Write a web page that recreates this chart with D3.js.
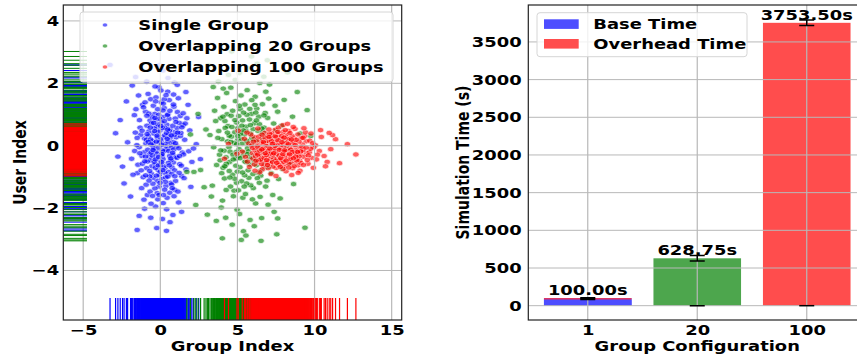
<!DOCTYPE html>
<html>
<head>
<meta charset="utf-8">
<script src="https://cdn.jsdelivr.net/npm/d3@7"></script>
<style>
  body { margin: 0; background: #fff; }
  svg { display: block; font-family: "DejaVu Sans", sans-serif; font-weight: bold; }
</style>
</head>
<body>
<svg id="chart" width="857" height="358"></svg>
<script>
// ---------------- scatter data: [group index, user index] ----------------
const singleGroup = [
[0.12,-0.34],[-0.66,0.81],[1.03,0.27],[-0.21,-1.12],[0.58,1.46],[-1.37,-0.05],[0.29,-0.73],[-0.84,-1.58],[1.47,0.66],[0.05,0.14],
[-0.43,0.39],[0.91,-1.41],[-1.68,0.98],[0.37,-0.02],[-0.09,1.87],[1.26,-0.59],[-0.71,-0.36],[0.63,0.53],[-1.15,1.31],[1.84,-0.18],
[-0.31,-1.95],[0.17,0.92],[-0.55,-0.66],[0.79,-0.29],[-1.02,0.23],[0.44,-1.67],[-0.18,0.61],[1.11,1.08],[-1.49,-0.88],[0.02,-0.51],
[0.71,0.03],[-0.62,1.49],[1.38,-0.97],[-0.27,-0.17],[0.25,1.21],[-1.86,-0.42],[0.96,0.44],[-0.08,-1.31],[0.53,-0.84],[-0.93,0.07],
[0.33,0.28],[-0.47,-1.03],[1.58,0.19],[-1.21,-1.36],[0.09,0.74],[-0.36,1.02],[0.84,-0.54],[-0.74,0.46],[1.19,-1.82],[-0.14,-0.78],
[0.48,1.73],[-1.04,-0.21],[0.67,-1.19],[-0.52,0.15],[1.72,0.88],[-0.23,-0.39],[0.14,-2.35],[-1.31,0.58],[0.88,1.25],[-0.66,-1.47],
[0.39,-0.11],[-0.02,0.49],[1.31,0.31],[-0.89,-0.72],[0.57,0.86],[-1.58,1.17],[0.21,-1.58],[-0.41,-0.02],[1.02,-0.36],[-0.79,1.66],
[0.76,-0.7],[-0.19,0.27],[2.05,-0.52],[-1.11,-1.01],[0.31,0.05],[-0.57,0.72],[0.99,-1.13],[-0.33,-0.59],[0.06,1.39],[-2.12,0.11],
[1.43,-0.22],[-0.68,-0.27],[0.42,0.67],[-0.06,-0.94],[0.83,0.12],[-0.96,1.09],[0.18,-0.43],[-1.45,-0.61],[1.17,1.52],[-0.29,0.83],
[0.61,-1.51],[-0.81,-0.13],[1.54,-1.04],[-0.16,-1.72],[0.27,0.33],[-1.27,0.35],[0.72,-0.06],[-0.45,1.28],[1.09,0.57],[-0.58,-0.9],
[0.02,0.21],[0.93,-0.79],[-1.77,-0.93],[0.49,1.01],[-0.24,-0.25],[1.29,0.95],[-0.87,0.64],[0.36,-1.29],[-0.11,0.99],[0.69,-0.47],
[-1.06,-1.73],[1.91,0.49],[-0.38,0.56],[0.23,-0.66],[-0.64,-0.47],[0.86,1.64],[-1.35,0.82],[0.11,-1.07],[1.36,-0.64],[-0.5,0.09],
[0.55,0.38],[-0.92,-1.25],[0.07,-0.31],[1.06,-0.02],[-0.28,1.55],[-1.62,0.42],[0.74,-0.91],[-0.05,0.11],[0.41,-2.04],[-0.77,0.31],
[1.23,0.73],[-0.35,-1.37],[0.17,1.13],[-1.19,-0.33],[0.64,0.26],[-0.6,-1.86],[1.67,-0.76],[-0.13,0.44],[0.3,-0.87],[-0.99,1.39],
[0.81,0.64],[-0.44,-0.08],[1.14,-1.47],[-1.41,1.61],[0.01,-0.63],[0.5,0.13],[-0.7,-0.99],[0.97,0.87],[-0.2,-1.52],[2.33,0.05],
[-0.9,0.19],[0.26,1.49],[-0.39,-0.52],[1.48,1.04],[-1.24,-0.79],[0.6,-0.33],[-0.15,0.68],[0.89,-1.62],[-0.54,0.93],[0.13,-0.15],
[-2.45,-0.67],[1.33,0.41],[-0.32,-0.71],[0.46,0.98],[-0.85,-0.51],[0.73,-1.24],[-1.5,0.25],[0.04,1.77],[1.08,-0.39],[-0.63,0.2],
[0.35,-1.02],[-0.1,-0.06],[1.61,0.71],[-1.09,1.23],[0.52,-0.55],[-0.48,-1.22],[0.92,0.35],[-0.26,0.13],[0.19,-1.84],[-1.66,-0.17],
[1.22,-0.87],[-0.75,1.03],[0.59,0.47],[-0.01,-0.84],[0.85,1.32],[-1.16,-0.58],[0.28,0.58],[-0.51,-0.32],[1.5,-0.28],[-0.34,1.9],
[-3.26,2.59],[0.5,2.17],[-2.6,0.82],[-1.5,-2.7],[-0.23,-2.64],[0.63,-2.45],[-1.93,-1.63],[1.98,-1.32],[2.48,0.92],[-2.2,1.42],
[0.92,2.03],[-0.88,2.06],[1.66,1.72],[-1.37,-2.25],[0.18,2.41],[-2.75,-0.35],[2.15,-0.09],[1.38,-2.12],[-0.62,-2.31],[-1.82,1.93],
[0.4,-2.73],[1.8,1.31],[-2.35,-1.21],[2.6,-0.43],[-0.05,2.58],[-1.02,-2.02],[1.1,1.95],[-1.6,2.2],[0.82,-2.22],[-2.9,0.4],
[0.22,-0.18],[-0.37,0.47],[0.68,-0.41],[-0.12,-0.63],[0.45,0.22],[-0.78,0.12],[0.15,0.57],[-0.25,-0.96],[0.98,0.08],[-0.59,-0.22],
[0.33,-1.16],[-0.04,0.86],[0.62,1.12],[-0.96,-0.35],[0.11,-0.27],[-0.43,0.73],[1.25,-0.33],[-0.69,-0.81],[0.4,0.41],[-0.17,1.17],
[0.77,-1.36],[-1.18,0.48],[0.08,0.03],[-0.32,-0.44],[0.54,-0.17],[-0.87,0.96],[1.13,0.42],[-0.5,-1.61],[0.26,0.79],[-0.02,-1.19],
[0.87,-0.12],[-1.33,-0.24],[0.19,1.35],[-0.61,0.04],[0.49,-0.99],[-0.21,0.32],[1.4,0.59],[-0.73,-1.12],[0.03,0.63],[0.58,-0.63],
[-1.0,-0.5],[0.71,0.33],[-0.3,1.42],[0.94,-0.98],[-0.47,-0.14],[0.16,-0.78],[-0.86,0.37],[0.37,1.62],[-0.11,-0.36],[1.01,0.76],
[-1.52,0.02],[0.28,-1.41],[-0.65,0.58],[0.8,-0.23],[-0.08,-1.58],[0.47,0.52],[-0.95,-0.95],[1.2,-0.08],[-0.35,0.89],[0.09,-0.53]
];

const overlapping20 = [
[5.21,0.43],[6.34,-0.87],[4.12,1.25],[5.87,0.18],[3.65,-0.62],[7.03,1.51],[4.78,-1.44],[6.56,0.37],[5.42,-0.21],[3.91,0.88],
[6.92,-1.12],[4.45,-0.05],[5.63,1.78],[7.48,-0.34],[4.98,-2.05],[6.11,0.72],[3.37,-1.28],[5.09,0.95],[6.77,-0.58],[4.3,1.69],
[5.74,-1.03],[7.85,0.64],[4.61,0.29],[6.25,1.19],[3.84,-0.29],[5.35,-1.67],[6.88,0.08],[4.87,1.43],[5.98,-0.44],[2.96,0.52],
[7.29,-1.58],[5.16,-0.69],[6.45,2.01],[4.03,-1.76],[5.55,0.61],[8.21,-0.11],[4.69,-0.93],[6.03,-1.36],[3.52,1.12],[5.91,1.02],
[7.14,0.27],[4.24,-2.31],[6.67,-0.22],[5.03,0.19],[3.76,2.06],[6.18,-1.85],[4.91,-0.41],[7.61,1.09],[5.48,1.32],[4.38,0.63],
[6.51,-0.96],[2.61,-0.78],[5.82,-2.38],[6.96,0.89],[4.57,1.86],[5.27,-1.14],[7.92,-0.75],[3.99,0.21],[6.31,0.48],[5.66,-0.08],
[4.16,-1.05],[7.38,-2.12],[5.12,2.33],[6.84,1.73],[3.46,-0.05],[5.95,0.26],[4.74,-1.62],[8.57,0.93],[6.22,-0.63],[4.95,0.74],
[5.39,-2.74],[7.21,-0.47],[3.71,1.53],[6.62,1.33],[4.49,-0.52],[5.78,0.84],[8.03,1.47],[4.07,-0.71],[6.09,-2.58],[5.23,1.61],
[3.22,0.34],[6.99,-1.89],[4.83,0.43],[5.59,-0.53],[7.52,0.49],[4.33,1.01],[6.41,-0.07],[5.06,-1.43],[3.95,-1.98],[6.73,0.58],
[5.71,2.48],[4.52,-0.19],[7.67,-1.07],[5.31,0.07],[3.59,0.79],[6.15,1.57],[4.99,-0.83],[8.39,-0.58],[5.86,-1.27],[4.21,0.57],
[6.38,0.93],[2.18,-0.84],[5.45,0.35],[7.08,1.96],[4.66,-2.53],[6.06,-0.31],[3.88,-0.47],[5.18,1.17],[6.83,-1.31],[4.42,2.27],
[5.69,-0.79],[7.35,0.71],[4.08,1.83],[6.57,-2.32],[5.01,0.56],[3.31,-1.63],[6.26,0.15],[5.52,-1.55],[9.07,0.39],[4.79,0.09],
[6.93,-0.13],[4.26,-0.37],[5.93,1.46],[7.77,-1.69],[3.63,-2.41],[5.36,-0.32],[6.47,-1.64],[4.59,0.96],[8.64,-1.23],[5.11,-0.11],
[6.71,2.21],[3.98,-0.88],[5.61,0.99],[7.19,-0.88],[4.71,-0.29],[6.29,-1.04],[5.26,0.22],[3.43,1.88],[6.02,0.53],[4.94,-1.19],
[7.44,1.28],[5.81,-0.6],[4.13,-0.16],[6.61,0.22],[5.47,-0.95],[2.84,-1.33],[6.19,1.06],[4.55,-1.31],[7.98,0.17],[5.97,-1.72],
[4.36,0.14],[6.86,-0.69],[5.14,-2.19],[3.79,0.47],[6.43,0.69],[5.68,0.09],[8.88,1.72],[4.86,2.11],[6.12,-0.51],[5.33,0.81],
[9.38,-2.63],[4.02,-2.97],[6.53,-3.05],[5.55,-2.88],[7.61,-2.33],[3.12,2.58],[6.94,2.74],[4.63,3.02],[5.91,2.86],[1.72,-0.84],
[2.45,1.02],[9.75,0.31],[2.3,-1.9],[8.25,2.35],[7.55,-2.84],[5.25,-3.02],[3.05,-2.21],[9.52,1.14],[1.95,0.36],[6.28,2.63],
[4.9,-0.64],[5.57,0.47],[6.36,-0.28],[4.47,0.32],[5.04,-0.34],[6.65,0.44],[5.77,-0.37],[4.19,0.79],[6.01,0.04],[5.4,1.06],
[7.11,-0.24],[4.82,-1.06],[5.84,0.66],[6.49,-0.8],[4.28,-0.58],[5.19,0.38],[6.8,1.05],[5.6,-1.21],[4.64,0.6],[7.27,0.12],
[5.02,0.31],[6.21,-0.45],[4.58,0.12],[5.72,-0.18],[4.18,-0.66],[6.58,0.55],[5.33,-0.86],[4.84,0.82],[6.04,0.21],[5.49,-0.51],
[4.35,0.42],[6.42,-1.19],[5.13,1.28],[3.92,-0.15],[6.89,0.32],[5.64,-0.27],[4.73,-0.44],[6.14,1.31],[5.29,0.64],[4.51,-1.02],
[7.05,-0.66],[5.85,0.39],[4.06,0.93],[6.33,-0.15],[5.44,-1.31],[4.95,0.05],[6.72,0.97],[5.58,0.16],[4.27,-1.42],[6.0,-0.91],
[5.17,-0.4],[4.69,1.12],[6.54,-0.42],[5.8,1.18],[3.73,0.25],[6.23,0.81],[4.93,-0.2],[5.38,0.49],[7.32,-0.1],[4.47,-0.81]
];

const overlapping100 = [
[7.62,-0.12],[8.41,0.18],[6.93,-0.41],[7.98,0.05],[9.12,-0.27],[6.54,0.11],[8.77,-0.53],[7.25,0.32],[8.05,-0.64],[6.21,-0.08],
[9.46,0.14],[7.41,-0.33],[8.63,-0.02],[6.78,0.41],[7.86,-0.21],[9.81,-0.39],[5.97,-0.24],[8.24,0.27],[7.13,-0.58],[8.92,0.36],
[6.35,-0.52],[7.71,0.09],[9.28,-0.11],[7.02,-0.03],[8.53,-0.34],[5.74,0.07],[7.51,-0.71],[8.17,-0.16],[6.66,-0.21],[10.05,0.02],
[7.33,0.19],[8.86,-0.22],[6.08,0.28],[7.93,-0.45],[9.57,-0.58],[6.87,0.02],[8.32,0.47],[7.19,-0.19],[8.71,0.1],[5.52,-0.36],
[7.78,0.24],[9.03,-0.47],[6.47,-0.31],[8.11,-0.29],[7.45,0.51],[10.31,-0.17],[6.71,-0.66],[8.48,0.03],[7.07,0.14],[9.36,0.31],
[6.14,-0.14],[7.84,-0.56],[8.97,-0.07],[6.59,0.22],[7.57,-0.27],[9.69,0.16],[5.86,0.36],[8.29,-0.44],[7.28,-0.05],[8.58,-0.72],
[6.99,-0.26],[9.21,0.04],[7.66,0.38],[6.29,0.02],[8.04,0.14],[10.62,-0.33],[7.16,-0.38],[8.82,-0.31],[6.82,-0.12],[7.91,0.22],
[5.31,-0.19],[9.49,-0.24],[7.37,-0.14],[8.39,-0.09],[6.42,-0.37],[8.67,0.23],[7.59,-0.42],[9.95,-0.05],[6.96,0.31],[8.13,0.35],
[7.22,0.06],[5.65,-0.51],[8.94,-0.63],[7.8,-0.08],[6.62,-0.47],[9.14,0.24],[7.48,-0.2],[8.45,-0.54],[6.24,0.17],[7.04,-0.5],
[10.44,0.28],[7.69,-0.31],[8.21,-0.01],[6.75,-0.09],[9.33,-0.36],[7.95,0.44],[6.01,-0.41],[8.6,0.11],[7.31,-0.67],[8.99,0.13],
[6.51,-0.02],[7.53,0.16],[9.66,-0.21],[8.07,-0.37],[6.86,-0.54],[7.12,0.23],[8.75,-0.15],[5.92,0.01],[7.89,-0.34],[9.05,-0.8],
[6.38,0.29],[8.36,-0.24],[7.42,-0.09],[10.82,-0.52],[6.69,0.08],[8.54,0.31],[7.74,-0.46],[9.24,-0.15],[6.17,-0.33],[7.99,-0.19],
[4.97,-0.26],[8.89,-0.42],[7.23,0.4],[8.28,0.21],[6.92,0.15],[9.88,0.08],[7.61,-0.59],[6.57,-0.59],[8.15,-0.82],[7.05,-0.15],
[9.41,0.43],[6.04,0.13],[8.69,-0.25],[7.36,-0.42],[5.45,0.22],[8.01,-0.03],[6.79,-0.33],[9.11,-0.55],[7.55,0.28],[8.46,-0.13],
[6.26,-0.23],[7.83,0.02],[10.18,-0.29],[7.09,0.38],[8.81,0.19],[6.61,-0.76],[7.47,-0.48],[9.6,-0.31],[6.97,-0.17],[8.34,-0.58],
[4.42,0.06],[11.05,-0.11],[7.67,0.58],[5.78,-0.68],[9.77,0.39],[6.44,-0.85],[8.73,0.54],[11.36,0.21],[4.16,-0.42],[10.71,-0.66],
[12.68,-0.28],[12.13,0.05],[11.62,-0.56],[11.17,0.34],[5.05,0.48],[9.92,-0.71],[7.18,-0.91],[8.52,-0.94],[6.33,0.55],[10.95,0.41],
[7.95,0.66],[8.62,0.6],[7.04,0.52],[9.31,0.56],[6.14,-0.8],[8.94,-0.87],[7.5,-0.97],[10.39,0.5],[5.62,0.42],[8.25,0.7],
[6.1,-0.6],[7.4,0.1],[8.0,-0.52],[6.8,0.26],[7.7,-0.62],[9.0,-0.34],[6.5,-0.45],[8.4,0.41],[7.3,-0.29],[8.85,-0.47],
[7.58,0.03],[6.73,-0.39],[8.19,0.09],[7.0,-0.72],[9.18,-0.04],[6.31,-0.28],[7.86,0.31],[8.67,-0.66],[7.14,-0.25],[9.53,-0.46],
[6.6,0.35],[7.96,-0.74],[8.56,-0.2],[7.27,-0.53],[6.85,-0.01],[10.12,-0.44],[7.63,0.18],[8.33,-0.7],[6.2,-0.48],[7.44,-0.01],
[8.1,0.5],[9.25,0.25],[5.98,-0.07],[7.81,-0.4],[6.64,-0.1],[8.78,-0.35],[7.2,0.15],[9.74,-0.1],[6.9,-0.46],[8.43,-0.43],
[7.35,-0.24],[8.02,0.26],[6.88,-0.3],[7.72,-0.13],[8.62,-0.4],[6.68,0.12],[7.94,-0.27],[8.3,0.05],[7.1,-0.09],[9.1,-0.18],
[6.45,-0.16],[7.55,-0.55],[8.5,0.2],[7.05,0.28],[7.88,0.11],[6.95,-0.62],[8.75,0.02],[7.45,0.3],[8.15,-0.48],[6.3,-0.03],
[9.45,-0.06],[7.62,0.44],[8.38,-0.28],[6.8,-0.24],[7.28,0.06],[8.9,-0.2],[7.78,-0.68],[6.58,-0.12],[8.06,-0.15],[9.28,-0.62]
];

const scatterNames = ["Single Group", "Overlapping 20 Groups", "Overlapping 100 Groups"];
const scatterColors = ["#0000ff", "#008000", "#ff0000"];
const scatterTicksX = [-5, 0, 5, 10, 15];
const scatterTicksY = [-4, -2, 0, 2, 4];

// ---------------- bar data: simulation time per group configuration ----------------
const groupConfigs = ["1", "20", "100"];
const simulationTime = [100.00, 628.75, 3753.50];
const simulationStd = [5, 36, 36];
const baseTime = [82, 0, 0];
const overheadTime = [18, 0, 0];
const groupColors = ["#4d4dff", "#4da64d", "#ff4d4d"];
const legendNames = ["Base Time", "Overhead Time"];
const legendColors = ["#4d4dff", "#ff4d4d"];
const timeTicks = [0, 500, 1000, 1500, 2000, 2500, 3000, 3500];

// ---------------- drawing ----------------
const SX = 1.28;          // horizontal glyph stretch
const FS = 14;            // font size
const svg = d3.select("#chart");
svg.append("rect").attr("width", 857).attr("height", 358).attr("fill", "#fff");

function txt(g, s, x, y, anchor, rotated) {
  const t = g.append("text")
    .attr("font-size", FS)
    .attr("fill", "#000")
    .attr("text-anchor", anchor || "start")
    .text(s);
  if (rotated) t.attr("transform", `translate(${x},${y}) rotate(-90) scale(1,${SX})`);
  else t.attr("transform", `translate(${x},${y}) scale(${SX},1)`);
  return t;
}
function styleAxisText(sel, isY, pad) {
  sel.selectAll(".tick text")
    .attr("font-size", FS)
    .attr("font-family", "DejaVu Sans")
    .attr("font-weight", "bold")
    .attr("fill", "#000")
    .attr("transform", `scale(${SX},1)`);
  sel.select(".domain").remove();
  sel.selectAll(".tick line").remove();
  if (isY) sel.selectAll(".tick text").attr("x", -pad / SX);
  else sel.selectAll(".tick text").attr("y", pad).attr("dy", 0);
}

// ===== left panel: scatter + rugs =====
const L = { left: 63.3, right: 401.7, top: 5, bottom: 320 };
const xL = d3.scaleLinear().domain([-6.29, 15.65]).range([L.left, L.right]);
const yL = d3.scaleLinear().domain([-5.587, 4.51]).range([L.bottom, L.top]);
svg.append("clipPath").attr("id", "clipL").append("rect")
  .attr("x", L.left).attr("y", L.top).attr("width", L.right - L.left).attr("height", L.bottom - L.top);

const gL = svg.append("g");
const plotL = gL.append("g").attr("clip-path", "url(#clipL)");
const scatterSets = [singleGroup, overlapping20, overlapping100];

scatterSets.forEach((pts, i) => {
  plotL.append("g").selectAll("ellipse").data(pts).join("ellipse")
    .attr("cx", d => xL(d[0])).attr("cy", d => yL(d[1]))
    .attr("rx", 3.3).attr("ry", 2.7)
    .attr("fill", scatterColors[i])
    .attr("stroke", "#fff").attr("stroke-width", 0.7)
    .attr("opacity", 0.62);
});

// grid
const gridL = plotL.append("g").attr("stroke", "#b8b8b8");
gridL.selectAll(".gx").data(scatterTicksX).join("line")
  .attr("x1", d => xL(d)).attr("x2", d => xL(d)).attr("y1", L.top).attr("y2", L.bottom).attr("stroke-width", 1.2);
gridL.selectAll(".gy").data(scatterTicksY).join("line")
  .attr("x1", L.left).attr("x2", L.right).attr("y1", d => yL(d)).attr("y2", d => yL(d)).attr("stroke-width", 1);

// rugs (7% of the axes)
const rugW = 0.07 * (L.right - L.left), rugH = 0.07 * (L.bottom - L.top);
scatterSets.forEach((pts, i) => {
  const r = plotL.append("g").attr("stroke", scatterColors[i]);
  r.selectAll(".rx").data(pts).join("line")
    .attr("x1", d => xL(d[0])).attr("x2", d => xL(d[0]))
    .attr("y1", L.bottom).attr("y2", L.bottom - rugH).attr("stroke-width", 1.2);
  r.selectAll(".ry").data(pts).join("line")
    .attr("y1", d => yL(d[1])).attr("y2", d => yL(d[1]))
    .attr("x1", L.left).attr("x2", L.left + rugW).attr("stroke-width", 1);
});

// axes
const axXL = gL.append("g").attr("transform", `translate(0,${L.bottom})`)
  .call(d3.axisBottom(xL).tickValues(scatterTicksX).tickSize(0).tickFormat(d3.format("d")));
styleAxisText(axXL, false, 15);
const axYL = gL.append("g").attr("transform", `translate(${L.left},0)`)
  .call(d3.axisLeft(yL).tickValues(scatterTicksY).tickSize(0).tickFormat(d3.format("d")));
styleAxisText(axYL, true, 4);

gL.append("rect").attr("x", L.left).attr("y", L.top)
  .attr("width", L.right - L.left).attr("height", L.bottom - L.top)
  .attr("fill", "none").attr("stroke", "#222").attr("stroke-width", 1.2);

txt(gL, "Group Index", (L.left + L.right) / 2, 350.7, "middle");
txt(gL, "User Index", 26, (L.top + L.bottom) / 2, "middle", true);

// legend
const legL = gL.append("g");
legL.append("rect").attr("x", 80).attr("y", 12).attr("width", 313).attr("height", 70)
  .attr("rx", 3).attr("fill", "#fff").attr("fill-opacity", 0.8)
  .attr("stroke", "#d6d6d6").attr("stroke-width", 1);
scatterNames.forEach((n, i) => {
  const yy = 30 + i * 21;
  legL.append("ellipse").attr("cx", 105).attr("cy", yy - 5).attr("rx", 2.6).attr("ry", 2.1)
    .attr("fill", scatterColors[i]).attr("stroke", "#fff").attr("stroke-width", 0.6).attr("opacity", 0.6);
  txt(legL, n, 138.3, yy, "start");
});

// ===== right panel: bars =====
const R = { left: 528.3, right: 866.2, top: 5, bottom: 320 };
const xR = d3.scalePoint().domain(groupConfigs).range([R.left, R.right]).padding(0.543);
const yR = d3.scaleLinear().domain([-190, 3990]).range([R.bottom, R.top]);
const barW = 0.8 * xR.step();
svg.append("clipPath").attr("id", "clipR").append("rect")
  .attr("x", R.left).attr("y", R.top).attr("width", R.right - R.left).attr("height", R.bottom - R.top);

const gR = svg.append("g");
const plotR = gR.append("g").attr("clip-path", "url(#clipR)");

plotR.selectAll(".bar").data(groupConfigs).join("rect")
  .attr("x", d => xR(d) - barW / 2).attr("width", barW)
  .attr("y", (d, i) => yR(simulationTime[i]))
  .attr("height", (d, i) => yR(0) - yR(simulationTime[i]))
  .attr("fill", (d, i) => groupColors[i]);
// stacked base / overhead split
plotR.selectAll(".base").data(groupConfigs).join("rect")
  .attr("x", d => xR(d) - barW / 2).attr("width", barW)
  .attr("y", (d, i) => yR(baseTime[i]))
  .attr("height", (d, i) => yR(0) - yR(baseTime[i]))
  .attr("fill", legendColors[0]);
plotR.selectAll(".over").data(groupConfigs).join("rect")
  .attr("x", d => xR(d) - barW / 2).attr("width", barW)
  .attr("y", (d, i) => yR(baseTime[i] + overheadTime[i]))
  .attr("height", (d, i) => yR(baseTime[i]) - yR(baseTime[i] + overheadTime[i]))
  .attr("fill", "#f0304a");

// grid above bars
const gridR = plotR.append("g").attr("stroke", "#b8b8b8");
gridR.selectAll(".gx").data(groupConfigs).join("line")
  .attr("x1", d => xR(d)).attr("x2", d => xR(d)).attr("y1", R.top).attr("y2", R.bottom).attr("stroke-width", 1.2);
gridR.selectAll(".gy").data(timeTicks).join("line")
  .attr("x1", R.left).attr("x2", R.right).attr("y1", d => yR(d)).attr("y2", d => yR(d)).attr("stroke-width", 1);

// error bars
const cap = 7.5;
const errG = plotR.append("g").attr("stroke", "#000").attr("stroke-width", 1.5);
groupConfigs.forEach((g, i) => {
  const cx = xR(g);
  const lo = yR(simulationTime[i] - simulationStd[i]), hi = yR(simulationTime[i] + simulationStd[i]);
  errG.append("line").attr("x1", cx).attr("x2", cx).attr("y1", lo).attr("y2", hi);
  errG.append("line").attr("x1", cx - cap).attr("x2", cx + cap).attr("y1", lo).attr("y2", lo);
  errG.append("line").attr("x1", cx - cap).attr("x2", cx + cap).attr("y1", hi).attr("y2", hi);
  errG.append("line").attr("x1", cx - cap).attr("x2", cx + cap)
    .attr("y1", yR(baseTime[i])).attr("y2", yR(baseTime[i]));
});

// value labels
groupConfigs.forEach((g, i) => {
  txt(gR, d3.format(".2f")(simulationTime[i]) + "s", xR(g), yR(simulationTime[i]) - 3.3, "middle");
});

// axes
const axXR = gR.append("g").attr("transform", `translate(0,${R.bottom})`)
  .call(d3.axisBottom(xR).tickSize(0));
styleAxisText(axXR, false, 15);
const axYR = gR.append("g").attr("transform", `translate(${R.left},0)`)
  .call(d3.axisLeft(yR).tickValues(timeTicks).tickSize(0).tickFormat(d3.format("d")));
styleAxisText(axYR, true, 6.6);

gR.append("rect").attr("x", R.left).attr("y", R.top)
  .attr("width", R.right - R.left).attr("height", R.bottom - R.top)
  .attr("fill", "none").attr("stroke", "#222").attr("stroke-width", 1.2);

txt(gR, "Group Configuration", xR("20"), 350.7, "middle");
txt(gR, "Simulation Time (s)", 469, (R.top + R.bottom) / 2, "middle", true);

// legend
const legR = gR.append("g");
legR.append("rect").attr("x", 537).attr("y", 12.7).attr("width", 210).attr("height", 44)
  .attr("rx", 3).attr("fill", "#fff").attr("fill-opacity", 0.8)
  .attr("stroke", "#d6d6d6").attr("stroke-width", 1);
legendNames.forEach((n, i) => {
  const yy = 29.3 + i * 19.7;
  legR.append("rect").attr("x", 544).attr("y", yy - 10).attr("width", 34.7).attr("height", 9.6)
    .attr("fill", legendColors[i]);
  txt(legR, n, 593.3, yy, "start");
});
</script>
</body>
</html>
